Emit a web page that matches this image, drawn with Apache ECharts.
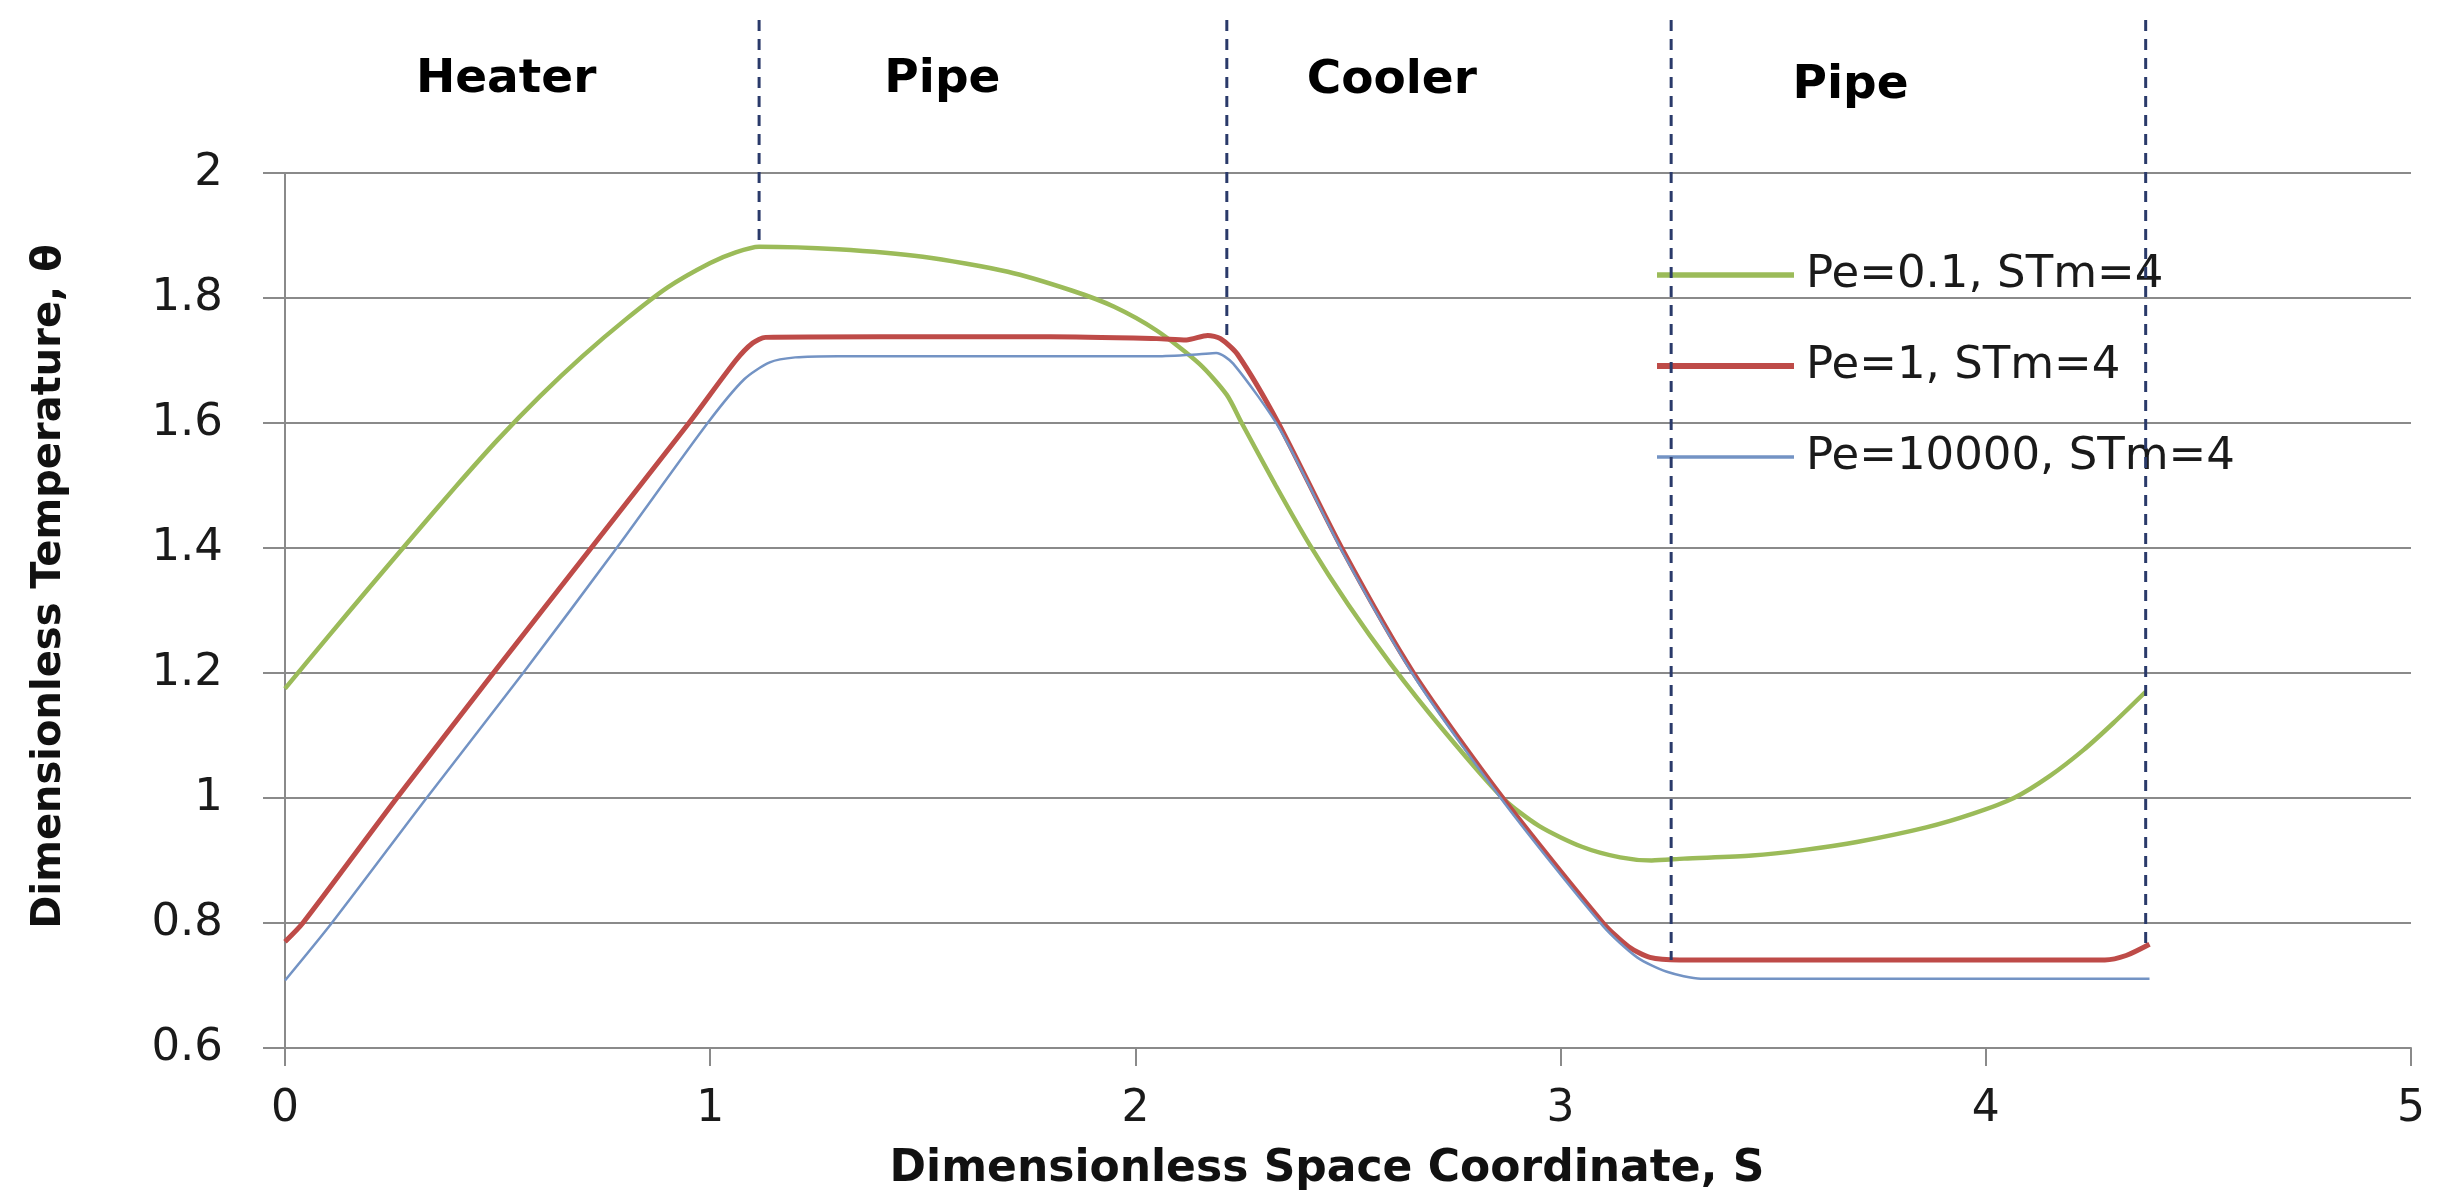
<!DOCTYPE html>
<html><head><meta charset="utf-8">
<script src="https://cdn.jsdelivr.net/npm/echarts@6/dist/echarts.min.js"></script>
<style>html,body{margin:0;padding:0;background:#fff}#c{width:2463px;height:1203px}</style>
</head><body><div id="c"></div>
<script>
// ---- data ----
const seriesNames = ['Pe=0.1, STm=4', 'Pe=1, STm=4', 'Pe=10000, STm=4'];
const seriesColors = ['#9BBB59', '#BE4B48', '#7393C4'];
const seriesWidths = [4.5, 5, 2.5];
const pe01 = [[0,1.175],[0.1,1.257],[0.2,1.338],[0.3,1.418],[0.4,1.497],[0.5,1.573],[0.6,1.643],[0.7,1.707],[0.8,1.765],[0.9,1.817],[1.0,1.856],[1.06,1.873],[1.115,1.882],[1.3,1.878],[1.5,1.866],[1.7,1.842],[1.85,1.812],[1.95,1.786],[2.05,1.748],[2.15,1.695],[2.215,1.645],[2.25,1.6],[2.33,1.5],[2.41,1.405],[2.5,1.31],[2.6,1.215],[2.72,1.112],[2.864,1.0],[2.95,0.955],[3.05,0.922],[3.14,0.905],[3.214,0.9],[3.29,0.903],[3.45,0.908],[3.574,0.917],[3.7,0.93],[3.86,0.953],[3.97,0.975],[4.066,1.0],[4.15,1.035],[4.23,1.077],[4.3,1.12],[4.376,1.17]];
const pe1 = [[0,0.77],[0.042,0.8],[0.263,1.0],[0.49,1.2],[0.72,1.4],[0.95,1.6],[1.06,1.7],[1.1,1.728],[1.13,1.737],[1.4,1.738],[1.8,1.738],[2.05,1.735],[2.12,1.733],[2.17,1.74],[2.2,1.735],[2.24,1.71],[2.336,1.6],[2.485,1.4],[2.654,1.2],[2.864,1.0],[3.1,0.8],[3.16,0.762],[3.21,0.745],[3.28,0.741],[4.28,0.741],[4.33,0.748],[4.385,0.766]];
const pe10000 = [[0,0.708],[0.11,0.8],[0.333,1.0],[0.56,1.2],[0.78,1.4],[0.994,1.6],[1.08,1.67],[1.14,1.697],[1.2,1.705],[1.3,1.707],[2.05,1.707],[2.15,1.71],[2.19,1.712],[2.23,1.695],[2.34,1.59],[2.49,1.39],[2.66,1.19],[2.87,0.99],[3.1,0.795],[3.18,0.745],[3.25,0.722],[3.33,0.711],[4.385,0.711]];
const boundaryX = [1.115, 2.215, 3.26, 4.376];
const boundaryBottom = [1.882, 1.74, 0.741, 0.766];
const boundaryTop = 2.245;
const sectionNames = ['Heater', 'Pipe', 'Cooler', 'Pipe'];
const sectionX = [0.52, 1.546, 2.603, 3.682];
const sectionY = [2.15, 2.15, 2.148, 2.139];
const xTicks = {min: 0, max: 5, interval: 1};
const yTicks = {min: 0.6, max: 2, interval: 0.2};
const xTitle = 'Dimensionless Space Coordinate, S';
const yTitle = 'Dimensionless Temperature, θ';

// ---- chart ----
const chart = echarts.init(document.getElementById('c'), null, {renderer: 'canvas'});
const gridColor = '#8a8a8a';
const valueSeries = [pe01, pe1, pe10000].map((d, i) => ({
  name: seriesNames[i], type: 'line', data: d, xAxisIndex: 0, yAxisIndex: 0,
  symbol: 'none', smooth: 0.25,
  lineStyle: {color: seriesColors[i], width: seriesWidths[i]},
  itemStyle: {color: seriesColors[i]}, z: [3, 4, 5][i], silent: true
}));
const boundarySeries = boundaryX.map((x, i) => ({
  type: 'line', xAxisIndex: 1, yAxisIndex: 1, symbol: 'none', silent: true,
  data: [[x, boundaryTop], [x, boundaryBottom[i]]],
  lineStyle: {color: '#2a3a6a', width: 3, type: [11, 8]}, z: 6
}));
const sectionSeries = {
  type: 'scatter', xAxisIndex: 1, yAxisIndex: 1, silent: true, symbolSize: 1,
  itemStyle: {color: 'rgba(0,0,0,0)', opacity: 1},
  data: sectionNames.map((n, i) => [sectionX[i], sectionY[i], n]),
  label: {show: true, position: 'inside', formatter: p => p.value[2],
    fontFamily: 'DejaVu Sans', fontWeight: 'bold', fontSize: 47, color: '#000'},
  z: 7
};
chart.setOption({
  animation: false,
  backgroundColor: '#fff',
  grid: [
    {left: 285, right: 52, top: 173, bottom: 155},
    {left: 285, right: 52, top: 20, bottom: 155}
  ],
  legend: {
    show: true, orient: 'vertical', left: 1654, top: 250, padding: 0,
    data: seriesNames.map((n, i) => ({name: n, itemStyle: {opacity: 0},
      lineStyle: {color: seriesColors[i], width: seriesWidths[i] + 1}})),
    itemWidth: 137, itemHeight: 14, itemGap: 41,
    textStyle: {fontFamily: 'DejaVu Sans', fontSize: 45, color: '#1a1a1a', lineHeight: 50, padding: [0, 0, 0, 7]}
  },
  xAxis: [{
    type: 'value', gridIndex: 0, min: xTicks.min, max: xTicks.max, interval: xTicks.interval,
    name: xTitle, nameLocation: 'middle', nameGap: 100,
    nameTextStyle: {fontFamily: 'DejaVu Sans', fontWeight: 'bold', fontSize: 44, color: '#111', padding: [0, 42, 0, 0]},
    axisLine: {show: true, lineStyle: {color: gridColor, width: 2}},
    axisTick: {show: true, inside: false, length: 18, lineStyle: {color: gridColor, width: 2}},
    axisLabel: {fontFamily: 'DejaVu Sans', fontSize: 44, color: '#1a1a1a', margin: 40},
    splitLine: {show: false}
  }, {
    type: 'value', gridIndex: 1, min: xTicks.min, max: xTicks.max, show: false
  }],
  yAxis: [{
    type: 'value', gridIndex: 0, min: yTicks.min, max: yTicks.max, interval: yTicks.interval,
    name: yTitle, nameLocation: 'middle', nameGap: 215, nameRotate: 90,
    nameTextStyle: {fontFamily: 'DejaVu Sans', fontWeight: 'bold', fontSize: 40, color: '#111', padding: [0, 0, 0, 48]},
    axisLine: {show: true, lineStyle: {color: gridColor, width: 2}},
    axisTick: {show: true, inside: false, length: 22, lineStyle: {color: gridColor, width: 2}},
    axisLabel: {fontFamily: 'DejaVu Sans', fontSize: 45, color: '#1a1a1a', margin: 62,
      formatter: v => String(+v.toFixed(1))},
    splitLine: {show: true, lineStyle: {color: gridColor, width: 2}}
  }, {
    type: 'value', gridIndex: 1, min: yTicks.min, max: boundaryTop, show: false
  }],
  series: [...valueSeries, ...boundarySeries, sectionSeries]
});
</script>
</body></html>
